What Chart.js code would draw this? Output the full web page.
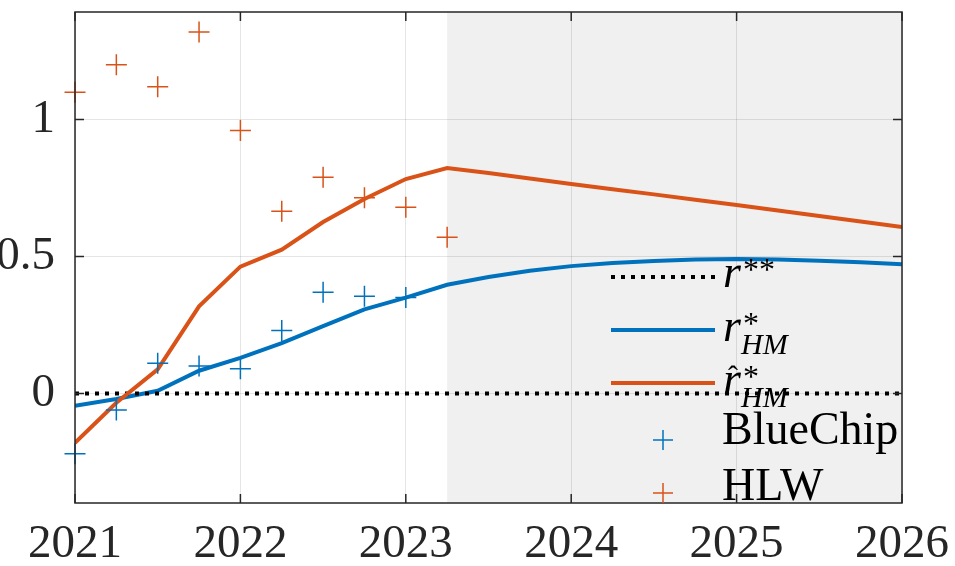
<!DOCTYPE html>
<html>
<head>
<meta charset="utf-8">
<script src="https://cdn.jsdelivr.net/npm/chart.js@4"></script>
<style>
  html, body { margin: 0; padding: 0; background: #fff; }
  #wrap { width: 955px; height: 566px; }
</style>
</head>
<body>
<div id="wrap"><canvas id="rstarChart" width="955" height="566"></canvas></div>
<script>
// Observed survey / model estimates (quarterly)
const obsQuarters = [2021, 2021.25, 2021.5, 2021.75, 2022, 2022.25, 2022.5, 2022.75, 2023, 2023.25];
const blueChip = [-0.22, -0.06, 0.11, 0.10, 0.09, 0.23, 0.37, 0.355, 0.35];
const hlw = [1.10, 1.20, 1.12, 1.32, 0.96, 0.665, 0.79, 0.715, 0.68, 0.57];

// Model paths, 2021Q1 to 2026Q1
const modelQuarters = [2021, 2021.25, 2021.5, 2021.75, 2022, 2022.25, 2022.5, 2022.75, 2023, 2023.25,
  2023.5, 2023.75, 2024, 2024.25, 2024.5, 2024.75, 2025, 2025.25, 2025.5, 2025.75, 2026];
const rHM = [-0.045, -0.02, 0.01, 0.083, 0.13, 0.184, 0.246, 0.307, 0.35, 0.397,
  0.425, 0.448, 0.465, 0.476, 0.484, 0.489, 0.491, 0.489, 0.485, 0.479, 0.472];
const rHatHM = [-0.18, -0.034, 0.088, 0.318, 0.463, 0.525, 0.626, 0.71, 0.783, 0.823,
  0.805, 0.785, 0.765, 0.746, 0.727, 0.707, 0.688, 0.668, 0.648, 0.628, 0.608];
const rStarStar = [0, 0];
const rStarStarX = [2021, 2026];

const forecastStart = 2023.25;
const xTicks = [2021, 2022, 2023, 2024, 2025, 2026];
const yTicks = [0, 0.5, 1];

const BLUE = '#0072BD', ORANGE = '#D95319';
const SERIF = '"Liberation Serif", serif';

const pts = (xs, ys) => ys.map((y, i) => ({x: xs[i], y: y}));

// grey forecast band, drawn under grid
const shadePlugin = {
    id: 'shade',
    beforeDraw(chart) {
        const {ctx, chartArea: a, scales: {x}} = chart;
        const x0 = x.getPixelForValue(forecastStart);
        ctx.save();
        ctx.fillStyle = '#f0f0f0';
        ctx.fillRect(x0, a.top, a.right - x0, a.bottom - a.top);
        ctx.restore();
    }
};

// box, inward ticks and legend
const framePlugin = {
    id: 'frame',
    afterDraw(chart) {
        const {ctx, chartArea: a, scales: {x, y}} = chart;
        ctx.save();
        ctx.strokeStyle = '#262626';
        ctx.lineWidth = 1.5;
        ctx.strokeRect(a.left, a.top, a.right - a.left, a.bottom - a.top);
        ctx.beginPath();
        const tl = 9;
        xTicks.forEach(v => {
            const px = x.getPixelForValue(v);
            ctx.moveTo(px, a.bottom); ctx.lineTo(px, a.bottom - tl);
            ctx.moveTo(px, a.top); ctx.lineTo(px, a.top + tl);
        });
        yTicks.forEach(v => {
            const py = y.getPixelForValue(v);
            ctx.moveTo(a.left, py); ctx.lineTo(a.left + tl, py);
            ctx.moveTo(a.right, py); ctx.lineTo(a.right - tl, py);
        });
        ctx.stroke();

        // legend
        const lx0 = a.left + 536, lx1 = a.left + 640, tx = a.left + 648;
        ctx.lineCap = 'butt';
        ctx.lineWidth = 4;
        ctx.strokeStyle = '#000';
        ctx.setLineDash([4, 6]);
        ctx.beginPath(); ctx.moveTo(lx0, 277); ctx.lineTo(lx1, 277); ctx.stroke();
        ctx.setLineDash([]);
        ctx.strokeStyle = BLUE;
        ctx.beginPath(); ctx.moveTo(lx0, 330); ctx.lineTo(lx1, 330); ctx.stroke();
        ctx.strokeStyle = ORANGE;
        ctx.beginPath(); ctx.moveTo(lx0, 383); ctx.lineTo(lx1, 383); ctx.stroke();

        const cx = (lx0 + lx1) / 2;
        ctx.lineWidth = 1.5;
        ctx.strokeStyle = BLUE;
        ctx.beginPath(); ctx.moveTo(cx - 10, 440); ctx.lineTo(cx + 10, 440);
        ctx.moveTo(cx, 430); ctx.lineTo(cx, 450); ctx.stroke();
        ctx.strokeStyle = ORANGE;
        ctx.beginPath(); ctx.moveTo(cx - 10, 493); ctx.lineTo(cx + 10, 493);
        ctx.moveTo(cx, 483); ctx.lineTo(cx, 503); ctx.stroke();

        ctx.fillStyle = '#000';
        ctx.textBaseline = 'alphabetic';
        ctx.textAlign = 'left';
        // r**
        ctx.font = 'italic 46px ' + SERIF;
        ctx.fillText('r', tx, 287);
        ctx.font = '32px ' + SERIF;
        ctx.fillText('**', tx + 20, 280);
        // r*_HM
        ctx.font = 'italic 46px ' + SERIF;
        ctx.fillText('r', tx, 341);
        ctx.font = '32px ' + SERIF;
        ctx.fillText('*', tx + 20, 334);
        ctx.font = 'italic 30px ' + SERIF;
        ctx.fillText('HM', tx + 18, 354);
        // r-hat*_HM
        ctx.font = 'italic 46px ' + SERIF;
        ctx.fillText('r', tx, 394);
        ctx.font = '30px ' + SERIF;
        ctx.fillText('\u02C6', tx + 5, 386);
        ctx.font = '32px ' + SERIF;
        ctx.fillText('*', tx + 20, 387);
        ctx.font = 'italic 30px ' + SERIF;
        ctx.fillText('HM', tx + 18, 407);
        // text entries
        ctx.font = '46px ' + SERIF;
        ctx.fillText('BlueChip', tx - 1, 444);
        ctx.fillText('HLW', tx - 1, 500);
        ctx.restore();
    }
};

const ctx = document.getElementById('rstarChart').getContext('2d');
new Chart(ctx, {
    type: 'scatter',
    data: {
        datasets: [
            {label: 'r*_HM', data: pts(modelQuarters, rHM), showLine: true, borderColor: BLUE,
             borderWidth: 4, pointRadius: 0, tension: 0, order: 4},
            {label: 'r**', data: pts(rStarStarX, rStarStar), showLine: true, borderColor: '#000',
             borderWidth: 4, borderDash: [4, 6], pointRadius: 0, order: 3},
            {label: 'r-hat*_HM', data: pts(modelQuarters, rHatHM), showLine: true, borderColor: ORANGE,
             borderWidth: 4, pointRadius: 0, tension: 0, order: 2},
            {label: 'BlueChip', data: pts(obsQuarters, blueChip), pointStyle: 'cross', pointRadius: 10.5,
             borderColor: BLUE, borderWidth: 1.5, clip: false, order: 1},
            {label: 'HLW', data: pts(obsQuarters, hlw), pointStyle: 'cross', pointRadius: 10.5,
             borderColor: ORANGE, borderWidth: 1.5, clip: false, order: 0}
        ]
    },
    options: {
        responsive: false,
        animation: false,
        layout: {padding: {top: 9, right: 53, left: 0, bottom: 0}},
        plugins: {legend: {display: false}, tooltip: {enabled: false}},
        scales: {
            x: {
                type: 'linear', min: 2021, max: 2026,
                afterBuildTicks: s => { s.ticks = xTicks.map(v => ({value: v})); },
                afterFit: s => { s.height = 63; s.paddingLeft = 0; s.paddingRight = 0; },
                grid: {color: 'rgba(0,0,0,0.1)', lineWidth: 1, drawTicks: false},
                border: {display: false},
                ticks: {color: '#262626', padding: 13, maxRotation: 0, autoSkip: false,
                        font: {family: SERIF, size: 47}, callback: v => String(v)}
            },
            y: {
                min: -0.4, max: 1.393,
                afterBuildTicks: s => { s.ticks = yTicks.map(v => ({value: v})); },
                afterFit: s => { s.width = 75; s.paddingTop = 0; s.paddingBottom = 0; },
                grid: {color: 'rgba(0,0,0,0.1)', lineWidth: 1, drawTicks: false},
                border: {display: false},
                ticks: {color: '#262626', padding: 20,
                        font: {family: SERIF, size: 47}, callback: v => String(v)}
            }
        }
    },
    plugins: [shadePlugin, framePlugin]
});
</script>
</body>
</html>
